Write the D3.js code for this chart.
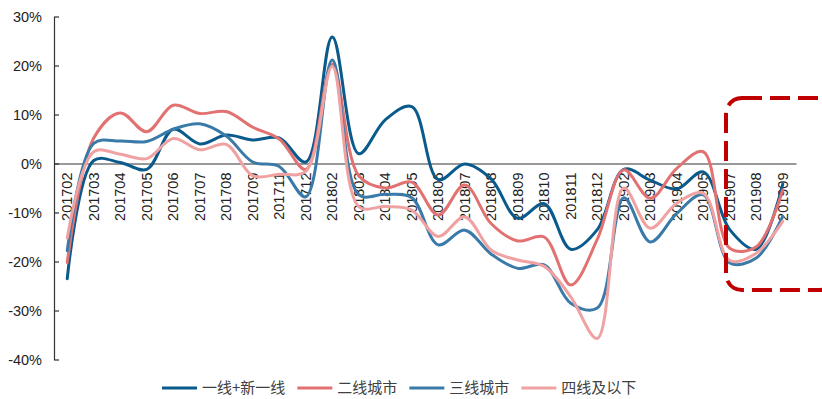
<!DOCTYPE html>
<html>
<head>
<meta charset="utf-8">
<script src="https://cdn.jsdelivr.net/npm/d3@7/dist/d3.min.js"></script>
<style>
  html, body { margin: 0; padding: 0; background: #fff; }
  svg { display: block; font-family: "Liberation Sans", Arial, sans-serif; }
  .legend text { font-family: "Noto Sans CJK SC", "Liberation Sans", sans-serif; }
</style>
</head>
<body>
<svg id="chart" width="822" height="399"></svg>
<script>
// Month labels (category axis)
const categories = ["201702","201703","201704","201705","201706","201707","201708","201709",
  "201711","201712","201802","201803","201804","201805","201806","201807","201808","201809",
  "201810","201811","201812","201902","201903","201904","201905","201907","201908","201909"];

// Year-on-year change, %
const tier1 = [-23.5, 0.6, 0.2, -1.2, 7.0, 4.0, 5.8, 4.8, 5.2, 0.3, 25.8, 2.0, 8.9, 11.6, -3.3, -0.1,
  -3.2, -11.2, -8.2, -17.5, -13.5, -1.2, -3.4, -5.2, -1.7, -13.5, -17.5, -4.2];
const tier2 = [-20.2, 5.2, 10.3, 6.5, 11.9, 10.2, 10.6, 7.4, 5.0, -1.2, 20.3, -2.5, -5.0, -3.8, -10.5, -4.4,
  -12.3, -15.8, -15.0, -24.8, -15.5, -1.3, -7.1, -1.0, 2.4, -17.3, -17.0, -5.4];
const tier3 = [-17.8, 4.1, 4.6, 4.5, 7.0, 8.1, 5.6, 0.3, -0.6, -6.8, 21.1, -6.4, -6.3, -7.0, -16.6, -13.6,
  -18.5, -21.4, -20.7, -28.5, -29.5, -7.0, -16.0, -10.2, -6.4, -20.3, -19.3, -10.8];
const tier4 = [-15.2, 2.4, 1.9, 1.0, 5.1, 2.8, 3.9, -2.5, -2.2, -1.6, 19.8, -8.8, -8.8, -9.5, -14.9, -10.9,
  -17.7, -19.7, -21.0, -27.2, -35.7, -5.0, -13.2, -8.1, -6.1, -19.8, -18.3, -11.8];

const seriesNames = ["一线+新一线", "二线城市", "三线城市", "四线及以下"];
const seriesColors = ["#0a5a8c", "#e27272", "#3a7aa8", "#f0a2a2"];
const yTicks = [-40, -30, -20, -10, 0, 10, 20, 30];

const series = [tier1, tier2, tier3, tier4].map((vals, i) => ({
  name: seriesNames[i], color: seriesColors[i], values: vals
}));

const svg = d3.select("#chart");

const x = d3.scaleBand().domain(categories).range([54, 796]);
const cx = c => x(c) + x.bandwidth() / 2;
const y = d3.scaleLinear().domain([-40, 30]).range([359.5, 16.5]);

// Y axis with inward ticks
const yAxis = svg.append("g")
  .attr("transform", "translate(54,0)")
  .call(d3.axisLeft(y).tickValues(yTicks).tickFormat(d => d + "%")
    .tickSizeInner(-5).tickSizeOuter(0).tickPadding(12));
yAxis.select(".domain").attr("stroke", "#333").attr("stroke-width", 1.2);
yAxis.selectAll(".tick line").attr("stroke", "#333").attr("stroke-width", 1.2);
yAxis.selectAll(".tick text").attr("font-size", "14.5px").attr("fill", "#222")
  .attr("font-family", "'Liberation Sans', Arial, sans-serif");

// Category axis along the zero line, labels rotated
const xAxis = svg.append("g")
  .attr("transform", `translate(0,${y(0)})`)
  .call(d3.axisBottom(x).tickSize(0).tickSizeOuter(0));
xAxis.select(".domain").attr("stroke", "#333").attr("stroke-width", 1.2);
xAxis.selectAll(".tick text")
  .attr("transform", "rotate(-90)")
  .attr("text-anchor", "end")
  .attr("x", -9).attr("y", 0).attr("dy", "0.36em")
  .attr("font-size", "14.5px").attr("fill", "#222")
  .attr("font-family", "'Liberation Sans', Arial, sans-serif");

// Smoothed series lines
const line = d3.line()
  .x((d, i) => cx(categories[i]))
  .y(d => y(d))
  .curve(d3.curveCatmullRom.alpha(0.5));

svg.append("g").selectAll("path")
  .data(series)
  .join("path")
  .attr("d", d => line(d.values))
  .attr("fill", "none")
  .attr("stroke", d => d.color)
  .attr("stroke-width", 3)
  .attr("stroke-linejoin", "round")
  .attr("stroke-linecap", "round");

// Highlight box around the latest months
svg.append("rect")
  .attr("x", 726).attr("y", 98)
  .attr("width", 110).attr("height", 192)
  .attr("rx", 16).attr("ry", 16)
  .attr("fill", "none")
  .attr("stroke", "#c00000")
  .attr("stroke-width", 4)
  .attr("stroke-dasharray", "20,8");

// Legend
const legend = svg.append("g").attr("class", "legend");
let lx = 162;
const ly = 388;
series.forEach(s => {
  legend.append("line")
    .attr("x1", lx).attr("x2", lx + 35)
    .attr("y1", ly).attr("y2", ly)
    .attr("stroke", s.color).attr("stroke-width", 3);
  const t = legend.append("text")
    .attr("x", lx + 40).attr("y", ly)
    .attr("dy", "0.35em")
    .attr("font-size", "15px")
    .attr("fill", "#404040")
    .text(s.name);
  lx += 40 + t.node().getComputedTextLength() + 12;
});
</script>
</body>
</html>
